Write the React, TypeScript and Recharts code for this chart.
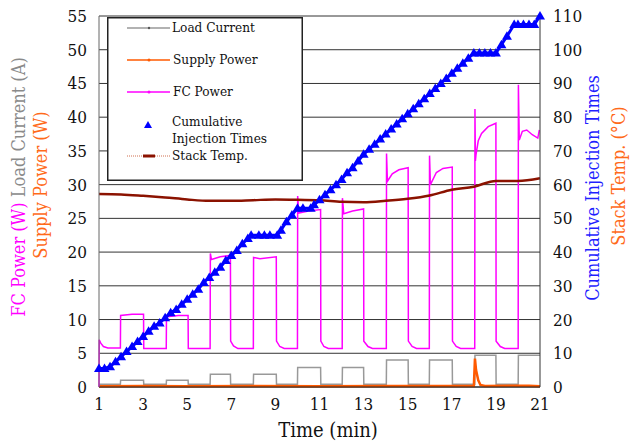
import { CartesianGrid, Legend, Line, LineChart, XAxis, YAxis } from "recharts";

// time in minutes
const timeTicks = [1, 3, 5, 7, 9, 11, 13, 15, 17, 19, 21];
const leftTicks = [0, 5, 10, 15, 20, 25, 30, 35, 40, 45, 50, 55];
const rightTicks = [0, 10, 20, 30, 40, 50, 60, 70, 80, 90, 100, 110];

const fcPower = [
  [1.0, 0], [1.01, 7.0], [1.08, 6.5], [1.2, 6.0], [1.4, 5.8], [1.97, 5.8],
  [1.98, 10.6], [2.5, 10.8], [3.02, 10.8], [3.03, 5.7], [4.05, 5.7],
  [4.06, 10.4], [4.6, 10.6], [5.04, 10.6], [5.05, 5.7], [6.04, 5.7],
  [6.05, 19.8], [6.1, 18.9], [6.5, 19.3], [6.96, 19.5], [6.97, 6.8], [7.1, 6.1], [7.3, 5.7], [8.0, 5.7],
  [8.01, 19.2], [8.3, 19.0], [9.04, 19.3], [9.05, 6.8], [9.2, 6.0], [9.4, 5.7], [10.0, 5.7],
  [10.01, 28.3], [10.06, 25.8], [10.5, 26.1], [11.05, 26.3], [11.06, 6.8], [11.2, 6.0], [11.4, 5.7], [12.03, 5.7],
  [12.04, 28.0], [12.1, 25.7], [12.5, 26.1], [13.0, 26.4], [13.01, 6.8], [13.2, 6.0], [13.4, 5.7], [14.03, 5.7],
  [14.04, 34.6], [14.08, 30.5], [14.3, 31.6], [14.6, 32.2], [15.02, 32.5], [15.03, 6.8], [15.2, 6.0], [15.4, 5.7], [15.98, 5.7],
  [15.99, 34.3], [16.03, 30.0], [16.3, 31.8], [16.6, 32.4], [17.02, 32.6], [17.03, 6.8], [17.2, 6.0], [17.4, 5.7], [18.04, 5.7],
  [18.05, 41.2], [18.07, 33.5], [18.1, 34.5], [18.2, 36.5], [18.35, 37.6], [18.65, 38.6], [19.0, 39.1],
  [19.01, 6.8], [19.2, 6.0], [19.4, 5.7], [20.01, 5.7],
  [20.02, 44.8], [20.06, 36.6], [20.2, 37.9], [20.4, 38.1], [20.65, 37.4], [20.9, 36.9], [20.97, 38.1],
].map(([t, v]) => ({ t, v }));

const loadCurrent = [
  [1.0, 0.4], [1.97, 0.4], [1.98, 1.0], [3.02, 1.0], [3.03, 0.4], [4.05, 0.4], [4.06, 1.0], [5.04, 1.0],
  [5.05, 0.4], [6.04, 0.4], [6.05, 1.9], [6.96, 1.9], [6.97, 0.4], [8.0, 0.4], [8.01, 1.9], [9.04, 1.9],
  [9.05, 0.4], [10.0, 0.4], [10.01, 2.9], [11.05, 2.9], [11.06, 0.4], [12.03, 0.4], [12.04, 2.9], [13.0, 2.9],
  [13.01, 0.4], [14.03, 0.4], [14.04, 4.0], [15.02, 4.0], [15.03, 0.4], [15.98, 0.4], [15.99, 4.0], [17.02, 4.0],
  [17.03, 0.4], [18.04, 0.4], [18.05, 4.7], [19.0, 4.7], [19.01, 0.4], [20.01, 0.4], [20.02, 4.7], [21.0, 4.7],
].map(([t, v]) => ({ t, v }));

const supplyPower = [
  [1.0, 0.1], [3.0, 0.15], [5.0, 0.1], [8.0, 0.15], [11.0, 0.1], [14.0, 0.15], [18.0, 0.15],
  [18.05, 4.2], [18.1, 2.5], [18.2, 1.0], [18.3, 0.3], [18.5, 0.15], [20.5, 0.2], [21.0, 0.1],
].map(([t, v]) => ({ t, v }));

const injections = [
  [1.0, 5.5], [1.25, 5.5], [1.5, 6], [1.75, 7.5], [2.0, 9], [2.25, 10.5], [2.5, 12], [2.75, 13.5],
  [3.0, 15], [3.25, 16.5], [3.5, 18], [3.75, 19], [4.0, 20.5], [4.25, 22], [4.5, 23], [4.75, 24.5],
  [5.0, 26], [5.25, 27.5], [5.5, 29], [5.75, 31], [6.0, 32.5], [6.25, 34], [6.5, 35.5], [6.75, 37.5],
  [7.0, 39], [7.25, 40.5], [7.5, 42.5], [7.75, 44], [7.9, 45], [8.25, 45], [8.5, 45], [8.75, 45],
  [9.08, 45], [9.25, 46.5], [9.5, 49], [9.75, 51], [10.0, 53], [10.25, 53], [10.6, 53], [10.75, 54],
  [11.0, 55.5], [11.25, 57], [11.5, 58.5], [11.75, 60], [12.0, 61.5], [12.25, 63.5], [12.5, 65], [12.75, 67],
  [13.0, 69], [13.25, 70.5], [13.5, 72], [13.75, 73.5], [14.0, 75], [14.25, 76.5], [14.5, 78], [14.75, 79.5],
  [15.0, 81], [15.25, 82.5], [15.5, 84], [15.75, 85.5], [16.0, 87], [16.25, 88.5], [16.5, 90], [16.75, 91.5],
  [17.0, 93], [17.25, 94.5], [17.5, 96], [17.75, 97.5], [18.0, 99], [18.25, 99], [18.5, 99], [18.75, 99],
  [19.0, 99], [19.25, 101.5], [19.5, 104], [19.83, 107.5], [20.0, 107.5], [20.25, 107.5], [20.5, 107.5],
  [20.74, 107.5], [21.0, 110],
].map(([t, v]) => ({ t, v }));

const stackTemp = [
  [1, 57.2], [2, 57.1], [3, 56.7], [4, 56.2], [5, 55.6], [6, 55.2], [7, 55.2], [8, 55.4], [9, 55.6],
  [10, 55.5], [11, 55.4], [12, 54.9], [13, 54.8], [14, 55.2], [15, 55.8], [16, 56.8], [17, 58.5],
  [18, 59.4], [19, 61.1], [20, 61.1], [21, 61.9],
].map(([t, v]) => ({ t, v }));

// Liberation Serif does not resolve here; DejaVu Serif Condensed is the closest serif
const FONT = "DejaVu Serif Condensed, DejaVu Serif";
const MAGENTA = "#ff00ff";
const GRAY = "#999999";
const ORANGE = "#ff5a00";
const BLUE = "#0000ff";
const DARKRED = "#8b1200";

const Triangle = (p: any) => {
  const { cx, cy, index } = p;
  if (cx == null || cy == null) return <g key={index} />;
  return (
    <path
      key={index}
      d={`M${cx},${cy - 5} L${cx - 5},${cy + 3.5} L${cx + 5},${cy + 3.5} Z`}
      fill={BLUE}
    />
  );
};

const LeftLabel = () => (
  <g fontFamily={FONT} fontSize={18}>
    <text x={25} y={187} transform="rotate(-90 25 187)" textAnchor="middle">
      <tspan fill={MAGENTA}>FC Power (W) </tspan>
      <tspan fill="#8a8a8a">Load Current (A)</tspan>
    </text>
    <text x={47} y={185} transform="rotate(-90 47 185)" textAnchor="middle" fill="#ff6a1a">
      Supply Power (W)
    </text>
  </g>
);

const RightLabel = () => (
  <g fontFamily={FONT} fontSize={18}>
    <text x={599} y={188} transform="rotate(-90 599 188)" textAnchor="middle" fill="#1f1fff">
      Cumulative Injection Times
    </text>
    <text x={625} y={176} transform="rotate(-90 625 176)" textAnchor="middle" fill="#ff6a1a">
      Stack Temp. (°C)
    </text>
  </g>
);

const BottomLabel = () => (
  <text x={328} y={437} textAnchor="middle" fontFamily={FONT} fontSize={20} fill="#111">
    Time (min)
  </text>
);

const LegendBox = () => (
  <svg width={196} height={164} style={{ display: "block" }} fontFamily={FONT} fontSize={13.5}>
    <rect x={0.75} y={0.75} width={194.5} height={162.5} fill="#fff" stroke="#222" strokeWidth={1.5} />
    <line x1={20} x2={63} y1={11} y2={11} stroke={GRAY} strokeWidth={1.5} />
    <circle cx={42} cy={11} r={1.2} fill="#555" />
    <text x={65} y={15} fill="#111">Load Current</text>
    <line x1={20} x2={63} y1={43} y2={43} stroke={ORANGE} strokeWidth={1.5} />
    <circle cx={42} cy={43} r={1.5} fill={ORANGE} />
    <text x={66} y={47} fill="#111">Supply Power</text>
    <line x1={20} x2={63} y1={75} y2={75} stroke={MAGENTA} strokeWidth={1.5} />
    <circle cx={42} cy={75} r={1.5} fill={MAGENTA} />
    <text x={66} y={79} fill="#111">FC Power</text>
    <path d="M41,104 L37,111 L45,111 Z" fill={BLUE} />
    <text x={65} y={109} fill="#111">Cumulative</text>
    <text x={65} y={126} fill="#111">Injection Times</text>
    <line x1={20} x2={63} y1={139} y2={139} stroke="#d07050" strokeWidth={1} strokeDasharray="1 1" />
    <line x1={36} x2={48} y1={139} y2={139} stroke={DARKRED} strokeWidth={3} />
    <text x={65} y={143} fill="#111">Stack Temp.</text>
  </svg>
);

export default function App() {
  const tickStyle = { fontSize: 17, fill: "#111", fontFamily: FONT };
  return (
    <div style={{ position: "fixed", left: 0, top: 0, width: 631, height: 444, background: "#fff" }}>
      <LineChart width={631} height={444} margin={{ top: 16, right: 0, bottom: 17, left: 0 }}>
        <CartesianGrid vertical={false} yAxisId="left" stroke="#333" strokeWidth={1} />
        <XAxis
          dataKey="t"
          type="number"
          domain={[1, 21]}
          ticks={timeTicks}
          height={40}
          tickLine={false}
          tickMargin={5}
          stroke="#222"
          tick={tickStyle}
          label={BottomLabel}
        />
        <YAxis
          yAxisId="left"
          domain={[0, 55]}
          ticks={leftTicks}
          width={99}
          tickLine={false}
          tickMargin={6}
          stroke="#666"
          tick={tickStyle}
          label={LeftLabel}
        />
        <YAxis
          yAxisId="right"
          orientation="right"
          domain={[0, 110]}
          ticks={rightTicks}
          width={91}
          tickLine={false}
          tickMargin={7}
          stroke="#333"
          tick={tickStyle}
          label={RightLabel}
        />
        <Legend
          layout="vertical"
          align="center"
          verticalAlign="middle"
          content={() => <LegendBox />}
          wrapperStyle={{ left: 107, top: 17, width: 196, height: 164, margin: 0 }}
        />
        <Line yAxisId="left" data={loadCurrent} dataKey="v" type="linear" stroke={GRAY} strokeWidth={1.5} dot={false} isAnimationActive={false} />
        <Line yAxisId="left" data={supplyPower} dataKey="v" type="linear" stroke={ORANGE} strokeWidth={2.5} dot={false} isAnimationActive={false} />
        <Line yAxisId="left" data={fcPower} dataKey="v" type="linear" stroke={MAGENTA} strokeWidth={1.5} dot={false} isAnimationActive={false} />
        <Line yAxisId="right" data={injections} dataKey="v" type="linear" stroke={BLUE} strokeWidth={3} dot={Triangle} isAnimationActive={false} />
        <Line yAxisId="right" data={stackTemp} dataKey="v" type="monotone" stroke={DARKRED} strokeWidth={2.5} dot={false} isAnimationActive={false} />
      </LineChart>
    </div>
  );
}
